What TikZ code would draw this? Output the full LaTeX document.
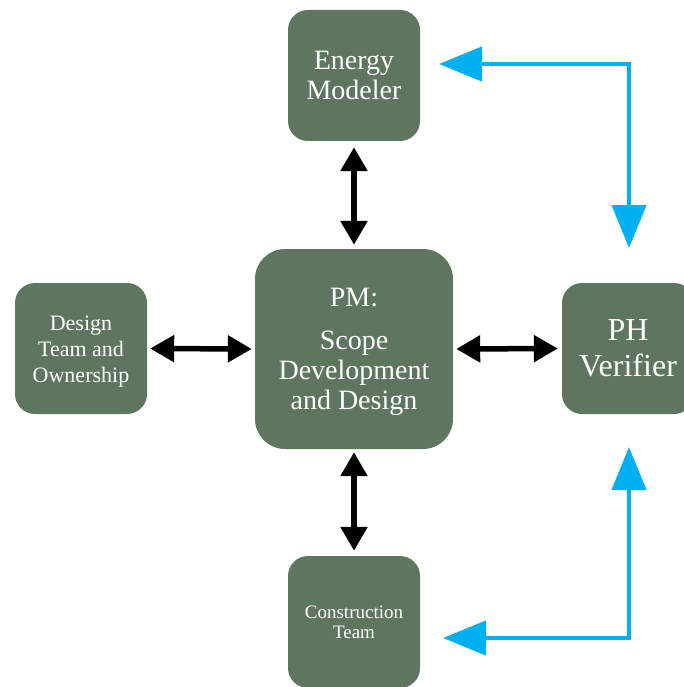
\documentclass[tikz,border=0pt]{standalone}
\usepackage{fontspec}
\setmainfont{Liberation Serif}
\usetikzlibrary{arrows.meta}
\definecolor{boxgreen}{HTML}{5E755F}
\definecolor{arrblue}{HTML}{00B0F0}
\begin{document}
\begin{tikzpicture}[x=1pt,y=-1pt,
  box/.style={fill=boxgreen, rounded corners=20pt, text=white, align=center, inner sep=0pt, minimum width=132pt, minimum height=131pt},
  txt/.style={text=white, align=center, inner sep=0pt},
  blk/.style={draw=black, line width=5.5pt, {Triangle[length=24pt,width=26pt]}-{Triangle[length=24pt,width=26pt]}},
  blu/.style={draw=arrblue, line width=4.5pt, {Triangle[length=43pt,width=34pt]}-{Triangle[length=43pt,width=34pt]}}]
\useasboundingbox (0,0) rectangle (684,687);
\clip (0,0) rectangle (684,687);
\node[box, font={\fontsize{28}{30}\selectfont}] (em) at (354,75.5) {Energy\\Modeler};
\node[box, rounded corners=30pt, minimum width=198pt, minimum height=200pt] (pm) at (354,349) {};
\node[txt, font={\fontsize{28}{30}\selectfont}] (pmt) at ([yshift=-3pt]pm.center) {PM:\\[13pt]Scope\\Development\\and Design};
\node[box] (dt) at (81,348.5) {};
\node[txt, font={\fontsize{22}{26}\selectfont}] (dtt) at ([yshift=-3pt]dt.center) {Design\\Team and\\Ownership};
\node[box, font={\fontsize{32}{36}\selectfont}] (ph) at (628,348.5) {PH\\Verifier};
\node[box, minimum height=132pt, font={\fontsize{19}{20}\selectfont}] (ct) at (354,622) {Construction\\Team};
\draw[blk, shorten <=6pt, shorten >=4pt] (em.south) -- (pm.north);
\draw[blk, shorten <=3pt, shorten >=3pt] (dt.east) -- (pm.west);
\draw[blk, shorten <=3pt, shorten >=4pt] (pm.east) -- (ph.west);
\draw[blk, shorten <=3pt, shorten >=5pt] (pm.south) -- (ct.north);
\coordinate (b1) at (439,64);
\coordinate (b2) at (629,248);
\coordinate (b3) at (629,447);
\coordinate (b4) at (443,638);
\draw[blu] (b1) -| (b2);
\draw[blu] (b3) |- (b4);
\end{tikzpicture}
\end{document}
